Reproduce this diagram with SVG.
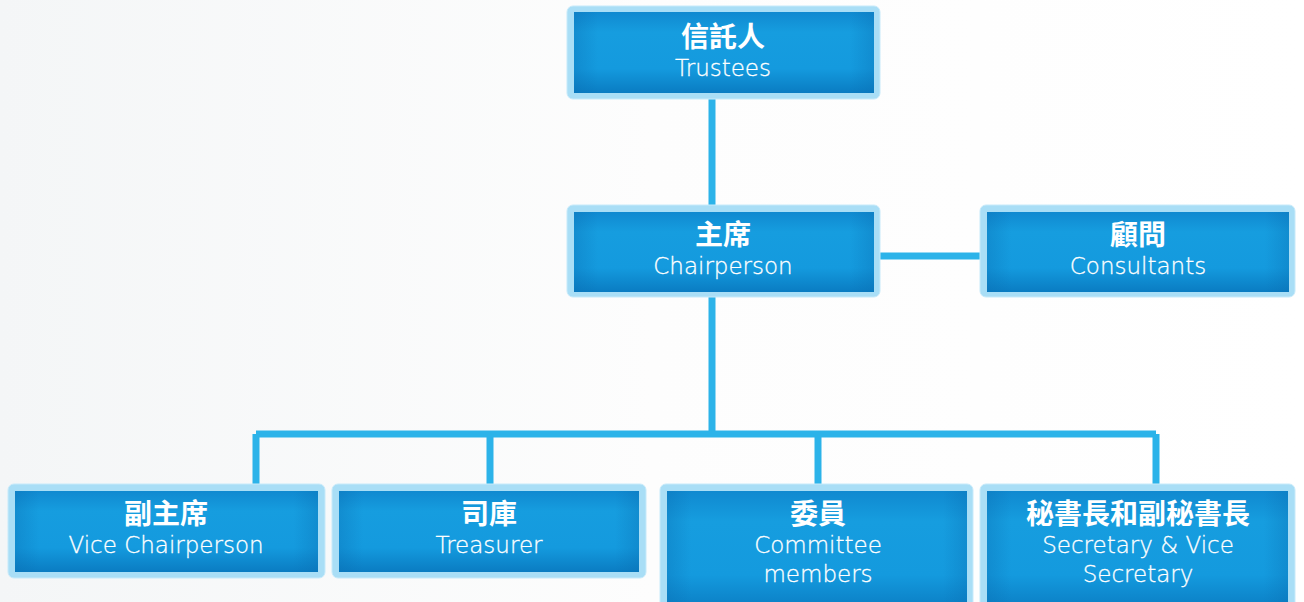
<svg xmlns="http://www.w3.org/2000/svg" width="1304" height="602" viewBox="0 0 1304 602">
<defs>
<linearGradient id="bg" x1="0" y1="0" x2="1" y2="0">
<stop offset="0" stop-color="#f4f6f7"/><stop offset="0.5" stop-color="#fdfdfd"/><stop offset="1" stop-color="#ffffff"/>
</linearGradient>
<linearGradient id="fill" x1="0" y1="0" x2="0" y2="1">
<stop offset="0" stop-color="#1089d0"/><stop offset="0.25" stop-color="#169ddf"/><stop offset="0.7" stop-color="#149ade"/><stop offset="1" stop-color="#0a7cc2"/>
</linearGradient>
<linearGradient id="side" x1="0" y1="0" x2="1" y2="0">
<stop offset="0" stop-color="#0a6fb3" stop-opacity="0.35"/><stop offset="0.08" stop-color="#0a6fb3" stop-opacity="0"/><stop offset="0.92" stop-color="#0a6fb3" stop-opacity="0"/><stop offset="1" stop-color="#0a6fb3" stop-opacity="0.35"/>
</linearGradient>
<style>
.outer{fill:#a9def6;stroke:#c7eafa;stroke-width:1}
.inner{fill:url(#fill)}
.shade{fill:url(#side)}
.zh{font-family:"Noto Sans CJK TC","Noto Sans CJK SC",sans-serif;font-weight:700;font-size:28px;fill:#ffffff;text-anchor:middle}
.en{font-family:"DejaVu Sans","Liberation Sans",sans-serif;font-weight:200;font-size:23px;fill:#ffffff;stroke:#ffffff;stroke-width:0.3;text-anchor:middle}
.conn{stroke:#2cb3e9;stroke-width:7;fill:none}
</style>
</defs>
<rect width="1304" height="602" fill="url(#bg)"/>
<g id="connectors">
<path class="conn" d="M712 99V205M712 297V434M880 256H980M256 434H1156M256 434V484M490 434V484M818 434V484M1156 434V484"/>
</g>
<g id="trustees">
<rect class="outer" x="567" y="6" width="313" height="93" rx="6"/>
<rect class="inner" x="574" y="12" width="300" height="81"/>
<rect class="shade" x="574" y="12" width="300" height="81"/>
<text class="zh" x="723" y="47">信託人</text>
<text class="en" x="723" y="76">Trustees</text>
</g>
<g id="chairperson">
<rect class="outer" x="567" y="205" width="313" height="92" rx="6"/>
<rect class="inner" x="574" y="212" width="300" height="80"/>
<rect class="shade" x="574" y="212" width="300" height="80"/>
<text class="zh" x="723" y="245">主席</text>
<text class="en" x="723" y="274">Chairperson</text>
</g>
<g id="consultants">
<rect class="outer" x="980" y="205" width="315" height="92" rx="6"/>
<rect class="inner" x="987" y="212" width="302" height="80"/>
<rect class="shade" x="987" y="212" width="302" height="80"/>
<text class="zh" x="1138" y="245">顧問</text>
<text class="en" x="1138" y="274">Consultants</text>
</g>
<g id="vice-chairperson">
<rect class="outer" x="8" y="484" width="317" height="94" rx="6"/>
<rect class="inner" x="15" y="491" width="303" height="81"/>
<rect class="shade" x="15" y="491" width="303" height="81"/>
<text class="zh" x="166" y="524">副主席</text>
<text class="en" x="166" y="553">Vice Chairperson</text>
</g>
<g id="treasurer">
<rect class="outer" x="332" y="484" width="314" height="94" rx="6"/>
<rect class="inner" x="339" y="491" width="300" height="81"/>
<rect class="shade" x="339" y="491" width="300" height="81"/>
<text class="zh" x="489" y="524">司庫</text>
<text class="en" x="489" y="553">Treasurer</text>
</g>
<g id="committee-members">
<rect class="outer" x="660" y="484" width="313" height="130" rx="6"/>
<rect class="inner" x="667" y="491" width="300" height="120"/>
<rect class="shade" x="667" y="491" width="300" height="120"/>
<text class="zh" x="818" y="524">委員</text>
<text class="en" x="818" y="553">Committee</text>
<text class="en" x="818" y="582">members</text>
</g>
<g id="secretary">
<rect class="outer" x="980" y="484" width="315" height="130" rx="6"/>
<rect class="inner" x="987" y="491" width="301" height="120"/>
<rect class="shade" x="987" y="491" width="301" height="120"/>
<text class="zh" x="1138" y="524">秘書長和副秘書長</text>
<text class="en" x="1138" y="553">Secretary &amp; Vice</text>
<text class="en" x="1138" y="582">Secretary</text>
</g>
</svg>
